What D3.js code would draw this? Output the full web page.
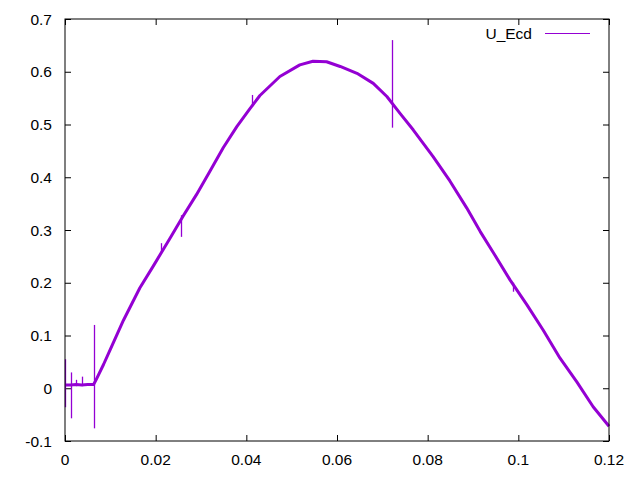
<!DOCTYPE html>
<html>
<head>
<meta charset="utf-8">
<script src="https://cdn.jsdelivr.net/npm/d3@7"></script>
<style>
  body { margin: 0; background: white; }
</style>
</head>
<body>
<div id="chart"></div>
<script>
// values
var curveX = [0, 0.0012, 0.0025, 0.0037, 0.005, 0.0063, 0.0068, 0.0085, 0.0099, 0.0129, 0.0165, 0.0195,
  0.0232, 0.0261, 0.029, 0.032, 0.0349, 0.0379, 0.0408, 0.043, 0.0474, 0.0518, 0.0547, 0.0577,
  0.0607, 0.0644, 0.068, 0.071, 0.0739, 0.0768, 0.0812, 0.0849, 0.0886, 0.0916, 0.0945, 0.0982,
  0.1019, 0.1055, 0.1092, 0.1129, 0.1165, 0.12];
var curveY = [0.006, 0.006, 0.007, 0.006, 0.007, 0.007, 0.015, 0.045, 0.072, 0.129, 0.19, 0.232,
  0.285, 0.327, 0.367, 0.412, 0.456, 0.496, 0.53, 0.555, 0.591, 0.613, 0.620, 0.619,
  0.610, 0.597, 0.578, 0.553, 0.521, 0.49, 0.439, 0.393, 0.342, 0.297, 0.257, 0.205,
  0.158, 0.110, 0.057, 0.012, -0.035, -0.072];

// short spikes: x, low, high
var spikeX = [0.0001, 0.00125, 0.0025, 0.0037, 0.0064, 0.0212, 0.0255, 0.0413, 0.0722, 0.0988];
var spikeLo = [-0.036, -0.057, 0.004, 0.004, -0.076, 0.256, 0.287, 0.534, 0.494, 0.183];
var spikeHi = [0.055, 0.03, 0.016, 0.022, 0.12, 0.275, 0.328, 0.556, 0.66, 0.2];

var xTicks = [0, 0.02, 0.04, 0.06, 0.08, 0.1, 0.12];
var yTicks = [-0.1, 0, 0.1, 0.2, 0.3, 0.4, 0.5, 0.6, 0.7];
var seriesName = "U_Ecd";

var svgWidth = 640;
var svgHeight = 480;
var plot = { left: 65, right: 609, top: 19, bottom: 441 };
var color = "#9400d3";
var fontSize = "15.5px";

var svg = d3.select("#chart")
  .append("svg")
  .attr("width", svgWidth)
  .attr("height", svgHeight)
  .style("font-family", "'Liberation Sans', Arial, sans-serif");

var x = d3.scaleLinear().domain([0, 0.12]).range([plot.left, plot.right]);
var y = d3.scaleLinear().domain([-0.1, 0.7]).range([plot.bottom, plot.top]);

var fmt = function(d) { return String(+d.toFixed(2)); };

// inward ticks, mirrored on top and right
function noDomain(g) { g.select(".domain").remove(); g.selectAll(".tick line").attr("stroke", "black"); }
svg.append("g")
  .attr("transform", `translate(0, ${plot.bottom})`)
  .call(d3.axisTop(x).tickValues(xTicks).tickSize(6).tickFormat(""))
  .call(noDomain);
svg.append("g")
  .attr("transform", `translate(0, ${plot.top})`)
  .call(d3.axisBottom(x).tickValues(xTicks).tickSize(6).tickFormat(""))
  .call(noDomain);
svg.append("g")
  .attr("transform", `translate(${plot.left}, 0)`)
  .call(d3.axisRight(y).tickValues(yTicks).tickSize(6).tickFormat(""))
  .call(noDomain);
svg.append("g")
  .attr("transform", `translate(${plot.right}, 0)`)
  .call(d3.axisLeft(y).tickValues(yTicks).tickSize(6).tickFormat(""))
  .call(noDomain);

svg.selectAll(".xlab")
  .data(xTicks)
  .enter()
  .append("text")
  .attr("class", "xlab")
  .attr("x", d => x(d))
  .attr("y", 465)
  .attr("text-anchor", "middle")
  .style("font-size", fontSize)
  .text(fmt);

svg.selectAll(".ylab")
  .data(yTicks)
  .enter()
  .append("text")
  .attr("class", "ylab")
  .attr("x", 52)
  .attr("y", d => y(d))
  .attr("dy", "0.36em")
  .attr("text-anchor", "end")
  .style("font-size", fontSize)
  .text(fmt);

// data
var pts = curveX.map((d, i) => [d, curveY[i]]);
var line = d3.line().x(d => x(d[0])).y(d => y(d[1]));

svg.append("path")
  .datum(pts)
  .attr("d", line)
  .attr("fill", "none")
  .attr("stroke", color)
  .attr("stroke-width", 3)
  .attr("stroke-linejoin", "round");

svg.selectAll(".spike")
  .data(spikeX)
  .enter()
  .append("line")
  .attr("class", "spike")
  .attr("x1", d => Math.round(x(d)) + 0.5)
  .attr("x2", d => Math.round(x(d)) + 0.5)
  .attr("y1", (d, i) => y(spikeLo[i]))
  .attr("y2", (d, i) => y(spikeHi[i]))
  .attr("stroke", color)
  .attr("stroke-width", 1.3);

// frame
svg.append("rect")
  .attr("x", plot.left)
  .attr("y", plot.top)
  .attr("width", plot.right - plot.left)
  .attr("height", plot.bottom - plot.top)
  .attr("fill", "none")
  .attr("stroke", "black")
  .attr("stroke-width", 1);

// legend
svg.append("text")
  .attr("x", 532)
  .attr("y", 33)
  .attr("dy", "0.36em")
  .attr("text-anchor", "end")
  .style("font-size", fontSize)
  .text(seriesName);
svg.append("line")
  .attr("x1", 545)
  .attr("x2", 590)
  .attr("y1", 33.5)
  .attr("y2", 33.5)
  .attr("stroke", color)
  .attr("stroke-width", 1);
</script>
</body>
</html>
